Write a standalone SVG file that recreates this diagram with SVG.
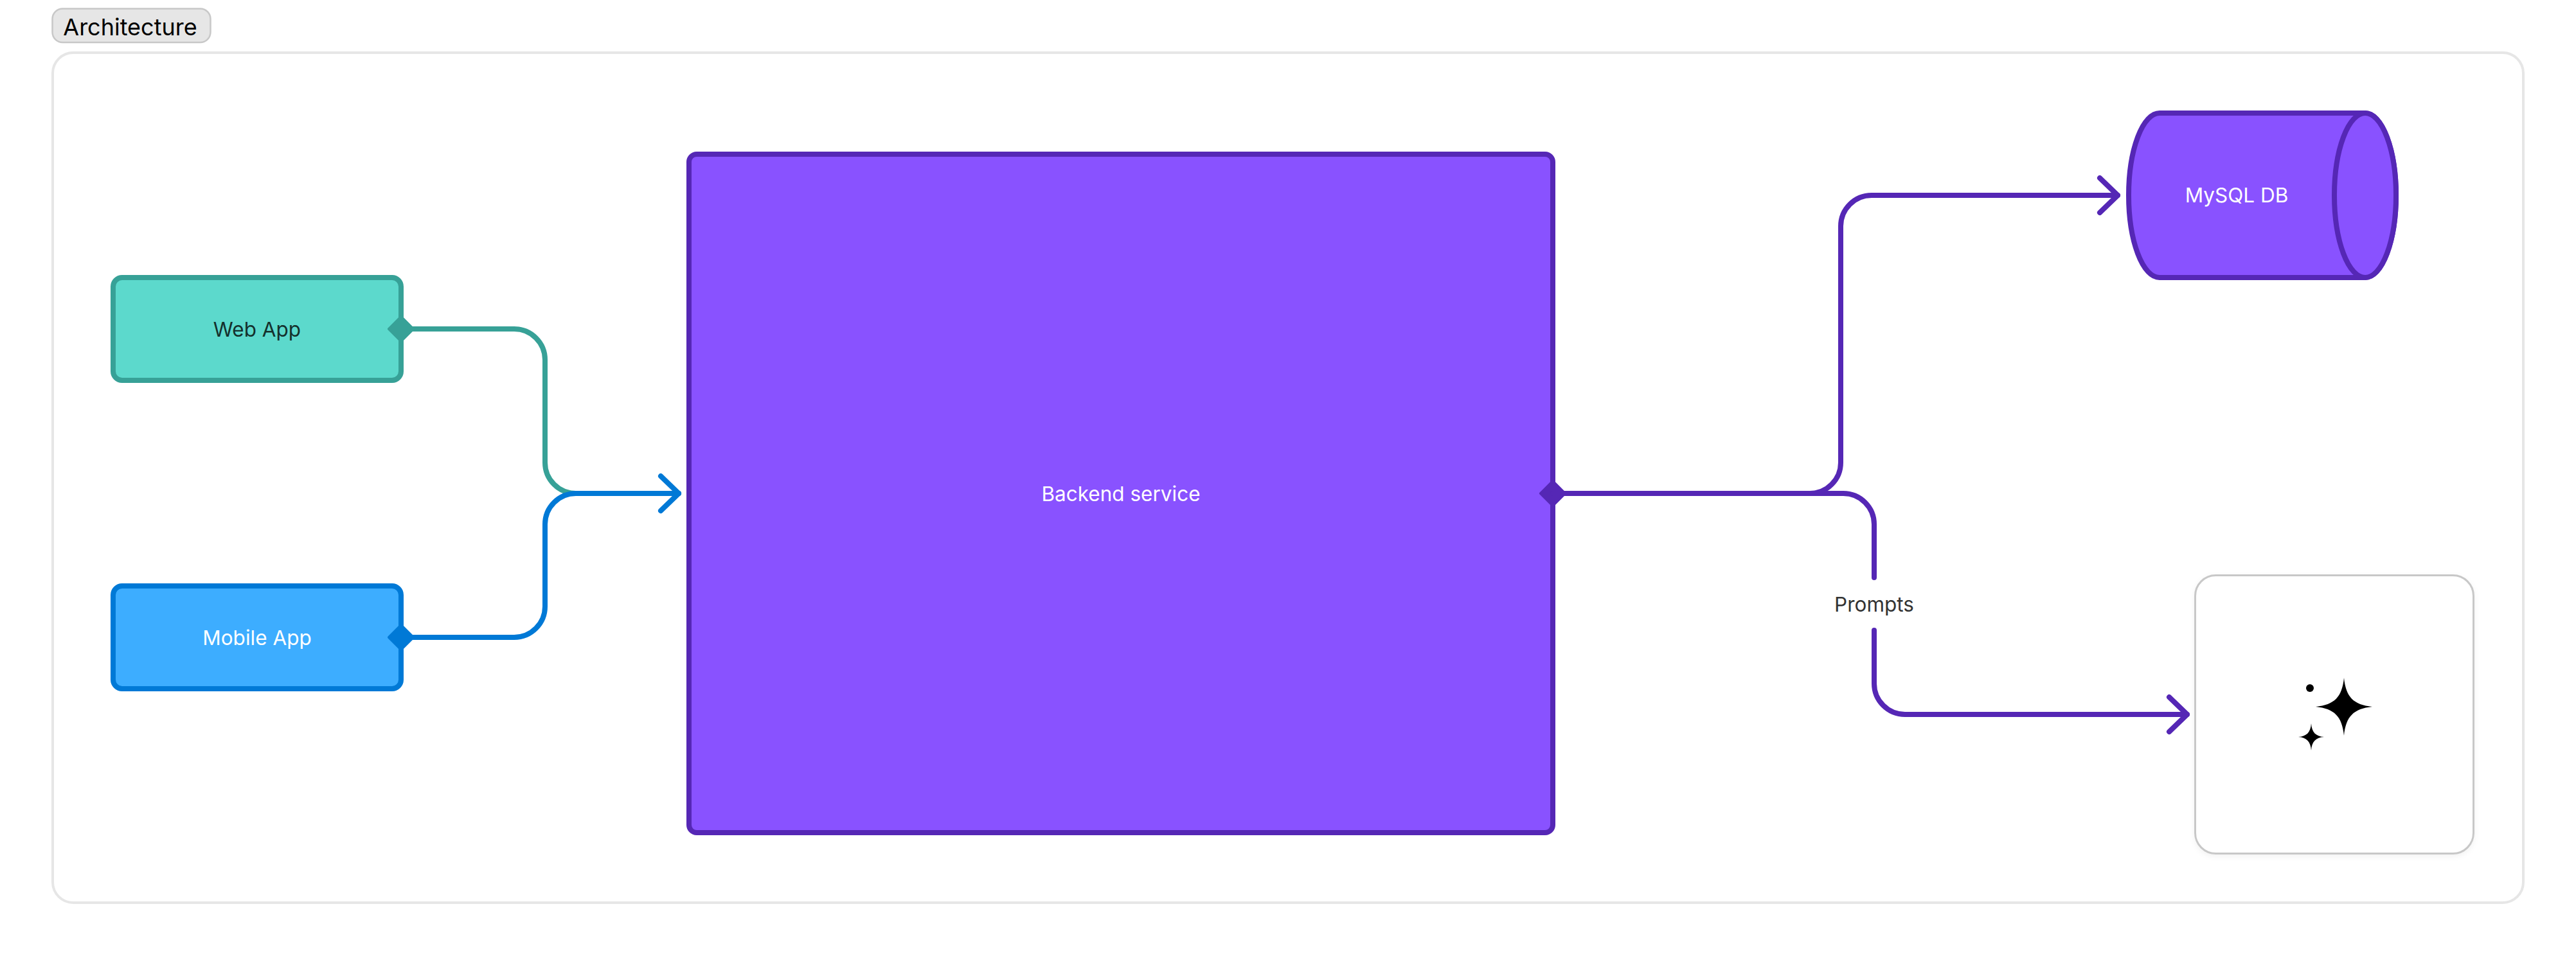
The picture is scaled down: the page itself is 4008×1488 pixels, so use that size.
<svg xmlns="http://www.w3.org/2000/svg" width="4008" height="1488" viewBox="0 0 4008 1488">
<style>
text{font-family:"Inter","Liberation Sans",sans-serif;font-size:31.5px;text-anchor:middle}
.conn{fill:none;stroke-width:8;stroke-linecap:round;stroke-linejoin:round}
.teal{stroke:#37a197}.blue{stroke:#0079d6}.purple{stroke:#5527b5}
.box{stroke-width:8}
.head{fill:none;stroke-width:8;stroke-linecap:round;stroke-linejoin:round}
</style>
<defs>
<filter id="soft" x="-10%" y="-10%" width="120%" height="120%"><feDropShadow dx="0" dy="3" stdDeviation="4" flood-color="#000" flood-opacity="0.05"/></filter>
<marker id="dTeal" markerUnits="userSpaceOnUse" markerWidth="48" markerHeight="48" refX="24" refY="24" overflow="visible"><path d="M24 5L43 24L24 43L5 24Z" fill="#37a197" stroke="#37a197" stroke-width="4" stroke-linejoin="round"/></marker>
<marker id="dBlue" markerUnits="userSpaceOnUse" markerWidth="48" markerHeight="48" refX="24" refY="24" overflow="visible"><path d="M24 5L43 24L24 43L5 24Z" fill="#0079d6" stroke="#0079d6" stroke-width="4" stroke-linejoin="round"/></marker>
<marker id="dPurple" markerUnits="userSpaceOnUse" markerWidth="48" markerHeight="48" refX="24" refY="24" overflow="visible"><path d="M24 5L43 24L24 43L5 24Z" fill="#5527b5" stroke="#5527b5" stroke-width="4" stroke-linejoin="round"/></marker>
<marker id="aBlue" markerUnits="userSpaceOnUse" markerWidth="64" markerHeight="80" refX="60" refY="40" overflow="visible"><path d="M32 13L60 40L32 67" class="head blue"/></marker>
<marker id="aPurple" markerUnits="userSpaceOnUse" markerWidth="64" markerHeight="80" refX="60" refY="40" overflow="visible"><path d="M32 13L60 40L32 67" class="head purple"/></marker>
</defs>
<rect width="4008" height="1488" fill="#fff"/>
<g id="frame">
<rect x="82" y="82" width="3844" height="1323" rx="32" fill="#fff" stroke="#e6e6e6" stroke-width="4"/>
<rect x="81.500" y="13.500" width="246" height="52.500" rx="16" fill="#e6e6e6" stroke="#c8c8c8" stroke-width="2.500"/>
<text x="202.500" y="55" style="font-size:36px" fill="#000">Architecture</text>
</g>
<g id="node-web">
<rect class="box teal" x="176" y="432" width="448" height="160" rx="14" fill="#5cd9cc"/>
<text x="400" y="524" fill="#14302c">Web App</text>
</g>
<g id="node-mobile">
<rect class="box blue" x="176" y="912" width="448" height="160" rx="14" fill="#3dadff"/>
<text x="400" y="1004" fill="#fff">Mobile App</text>
</g>
<g id="node-backend">
<rect class="box purple" x="1072" y="240" width="1344" height="1056" rx="12" fill="#8952ff"/>
<text x="1744" y="780" fill="#fff">Backend service</text>
</g>
<g id="node-db">
<path class="box purple" d="M3360 176H3680A48 128 0 0 1 3680 432H3360A48 128 0 0 1 3360 176Z" fill="#8952ff"/>
<ellipse class="box purple" cx="3680" cy="304" rx="48" ry="128" fill="#8952ff"/>
<text x="3480" y="315" fill="#fff">MySQL DB</text>
</g>
<g id="node-ai">
<rect x="3415.500" y="895.500" width="433" height="433" rx="32" fill="#fff" stroke="#c8c8c8" stroke-width="3" filter="url(#soft)"/>
<path d="M3647 1055C3650 1085 3662 1097 3691 1100C3662 1103 3650 1115 3647 1145C3644 1115 3632 1103 3603 1100C3632 1097 3644 1085 3647 1055Z" fill="#000"/>
<path d="M3596 1126C3597 1140 3603 1146 3616 1147C3603 1148 3597 1154 3596 1168C3595 1154 3589 1148 3576 1147C3589 1146 3595 1140 3596 1126Z" fill="#000"/>
<circle cx="3594" cy="1071" r="6" fill="#000"/>
</g>
<g id="connectors">
<path class="conn teal" d="M624 512H800A48 48 0 0 1 848 560V720A48 48 0 0 0 896 768H1056" marker-start="url(#dTeal)"/>
<path class="conn blue" d="M624 992H800A48 48 0 0 0 848 944V816A48 48 0 0 1 896 768H1056" marker-start="url(#dBlue)" marker-end="url(#aBlue)"/>
<path class="conn purple" d="M2416 768H2816A48 48 0 0 0 2864 720V352A48 48 0 0 1 2912 304H3295" marker-start="url(#dPurple)" marker-end="url(#aPurple)"/>
<path class="conn purple" d="M2416 768H2868A48 48 0 0 1 2916 816V899"/>
<path class="conn purple" d="M2916 981V1064A48 48 0 0 0 2964 1112H3403" marker-end="url(#aPurple)"/>
<text x="2916" y="952" fill="#333">Prompts</text>
</g>
</svg>
